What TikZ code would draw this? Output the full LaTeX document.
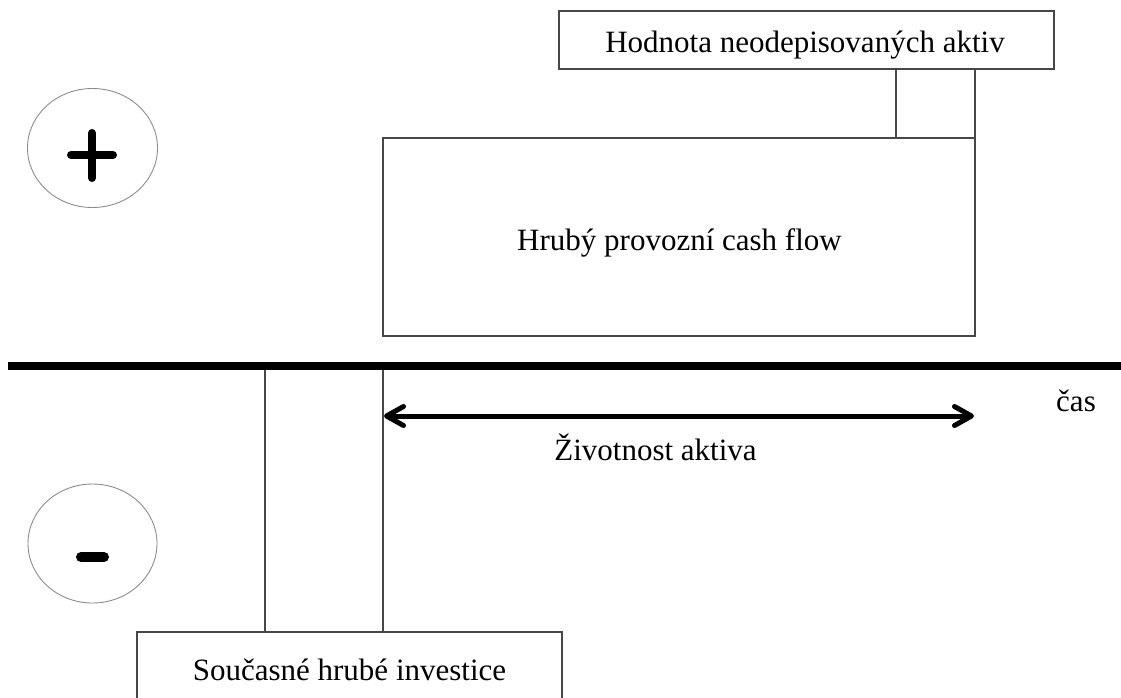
\documentclass[tikz,border=0pt]{standalone}
\usepackage{fontspec}
\setmainfont{Liberation Serif}
\usetikzlibrary{arrows.meta,shapes.geometric}
\begin{document}
\begin{tikzpicture}[x=1pt,y=-1pt,
  box/.style={draw=black!72, line width=1.2pt, rectangle, inner sep=0pt},
  lbl/.style={anchor=base, inner sep=0pt, font=\fontsize{31}{37}\selectfont},
  sign/.style={draw=black!45, line width=0.9pt, ellipse, inner sep=0pt},
  signmark/.style={line width=8pt, line cap=round},
  axis/.style={line width=8pt},
  life/.style={line width=5pt, line cap=round,
    {Straight Barb[length=17pt,width=19pt,line cap=round,line join=round]}-{Straight Barb[length=17pt,width=19pt,line cap=round,line join=round]}}
]
\useasboundingbox (0,0) rectangle (1121,697);
% boxes
\node[box, minimum width=495pt, minimum height=58pt] (rest) at (806.5,40) {};
\node[box, minimum width=79pt, minimum height=69pt] (restbar) at (935.5,103.5) {};
\node[box, minimum width=592pt, minimum height=198pt] (cf) at (679,237) {};
\node[box, minimum width=118pt, minimum height=266pt] (invbar) at (324,499) {};
\node[box, minimum width=425pt, minimum height=100pt] (inv) at (349.5,682) {};
% time axis
\coordinate (axL) at (8,366);
\coordinate (axR) at (1121,366);
\draw[axis] (axL) -- (axR);
% labels
\node[lbl] (restlbl) at (805,52) {Hodnota neodepisovaných aktiv};
\node[lbl] (cflbl) at (679.5,250) {Hrubý provozní cash flow};
\node[lbl] (invlbl) at (349.5,680) {Současné hrubé investice};
\node[lbl] (lifelbl) at (655.5,460) {Životnost aktiva};
\node[lbl] (timelbl) at (1076,411) {čas};
% life arrow
\coordinate (lifeL) at (384,416);
\coordinate (lifeR) at (974,416);
\draw[life] (lifeL) -- (lifeR);
% plus / minus circles
\node[sign, minimum width=130pt, minimum height=119pt] (plus) at (92.5,148) {};
\draw[signmark] (71,155) -- (113,155);
\draw[signmark] (92,133) -- (92,178);
\node[sign, minimum width=129pt, minimum height=119pt] (minus) at (92.5,543.5) {};
\draw[line width=10pt, line cap=round] (81,557) -- (104,557);
\end{tikzpicture}
\end{document}
